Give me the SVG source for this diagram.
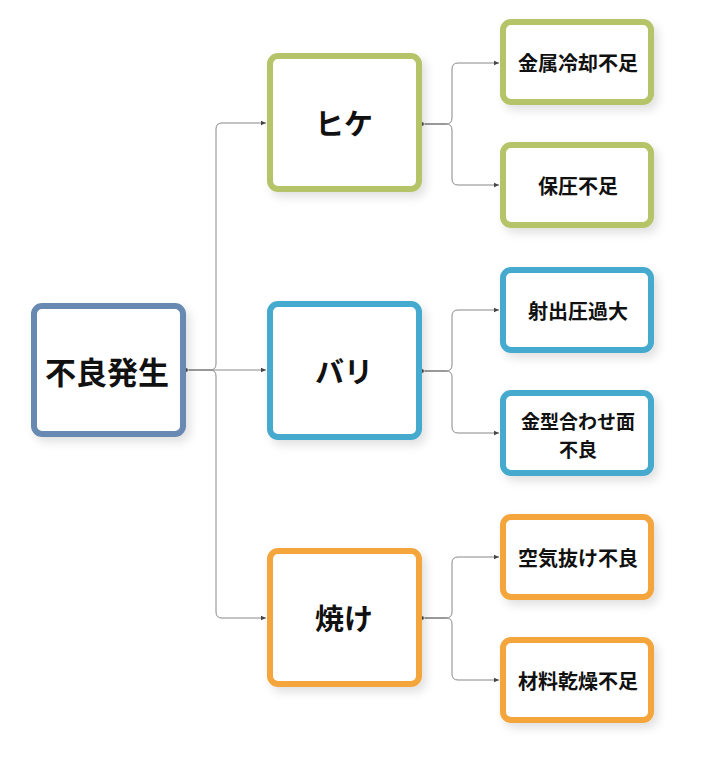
<svg xmlns="http://www.w3.org/2000/svg" width="704" height="763" viewBox="0 0 704 763">
<defs>
<filter id="sh" x="-20%" y="-20%" width="150%" height="150%">
<feDropShadow dx="4" dy="5" stdDeviation="5" flood-color="#000" flood-opacity="0.12"/>
</filter>
<marker id="ar" markerWidth="6" markerHeight="6" refX="5" refY="3" orient="auto" markerUnits="userSpaceOnUse">
<path d="M0,0.8 L5,3 L0,5.2 Z" fill="#444"/>
</marker>
<marker id="dot" markerWidth="6" markerHeight="6" refX="3" refY="3" markerUnits="userSpaceOnUse">
<circle cx="3" cy="3" r="2.3" fill="#444" stroke="#fff" stroke-width="0.8"/>
</marker>
</defs>
<style>
.box{fill:#fff;stroke-width:6;filter:url(#sh)}
.root{stroke:#6889b1}
.g{stroke:#b5c468}
.b{stroke:#44aacd}
.o{stroke:#f4a63d}
text{font-family:"Noto Sans CJK JP","Noto Sans",sans-serif;font-weight:bold;fill:#111;text-anchor:middle;dominant-baseline:central}
.t1{font-size:31px}
.t2{font-size:29px}
.t3{font-size:20px}
.t4{font-size:19px}
.c{fill:none;stroke:#888;stroke-width:1}
.c0{fill:none;stroke:#555;stroke-width:1.2}
</style>
<rect width="704" height="763" fill="#fff"/>
<g id="connectors">
<path class="c" d="M210,370 Q216,370 216,364 V129 Q216,123 222,123 H266" marker-end="url(#ar)"/>
<path class="c" d="M210,370 H266" marker-end="url(#ar)"/>
<path class="c" d="M210,370 Q216,370 216,376 V612 Q216,618 222,618 H266" marker-end="url(#ar)"/>
<path class="c0" d="M186,370 H210" marker-start="url(#dot)"/>
<path class="c" d="M446,124 Q452,124 452,118 V69 Q452,63 458,63 H499" marker-end="url(#ar)"/>
<path class="c" d="M446,124 Q452,124 452,130 V179 Q452,185 458,185 H499" marker-end="url(#ar)"/>
<path class="c0" d="M422,124 H446" marker-start="url(#dot)"/>
<path class="c" d="M446,371 Q452,371 452,365 V316 Q452,310 458,310 H499" marker-end="url(#ar)"/>
<path class="c" d="M446,371 Q452,371 452,377 V427 Q452,433 458,433 H499" marker-end="url(#ar)"/>
<path class="c0" d="M422,371 H446" marker-start="url(#dot)"/>
<path class="c" d="M446,618 Q452,618 452,612 V563 Q452,557 458,557 H499" marker-end="url(#ar)"/>
<path class="c" d="M446,618 Q452,618 452,624 V674 Q452,680 458,680 H499" marker-end="url(#ar)"/>
<path class="c0" d="M422,618 H446" marker-start="url(#dot)"/>
</g>
<g id="root">
<rect class="box root" x="34" y="306" width="149" height="128" rx="8"/>
<text class="t1" x="107" y="370">不良発生</text>
</g>
<g id="hike">
<rect class="box g" x="270" y="56" width="149" height="133" rx="8"/>
<text class="t2" x="344" y="122">ヒケ</text>
</g>
<g id="bari">
<rect class="box b" x="270" y="304" width="149" height="133" rx="8"/>
<text class="t2" x="344" y="370">バリ</text>
</g>
<g id="yake">
<rect class="box o" x="270" y="551" width="149" height="133" rx="8"/>
<text class="t2" x="344" y="617">焼け</text>
</g>
<g id="leaf1">
<rect class="box g" x="503" y="22" width="148" height="80" rx="8"/>
<text class="t3" x="578" y="62">金属冷却不足</text>
</g>
<g id="leaf2">
<rect class="box g" x="503" y="145" width="148" height="80" rx="8"/>
<text class="t3" x="578" y="185">保圧不足</text>
</g>
<g id="leaf3">
<rect class="box b" x="503" y="270" width="148" height="80" rx="8"/>
<text class="t3" x="578" y="310">射出圧過大</text>
</g>
<g id="leaf4">
<rect class="box b" x="503" y="393" width="148" height="80" rx="8"/>
<text class="t4" x="578" y="420">金型合わせ面</text>
<text class="t4" x="578" y="448">不良</text>
</g>
<g id="leaf5">
<rect class="box o" x="503" y="517" width="148" height="80" rx="8"/>
<text class="t3" x="578" y="557">空気抜け不良</text>
</g>
<g id="leaf6">
<rect class="box o" x="503" y="640" width="148" height="80" rx="8"/>
<text class="t3" x="578" y="680">材料乾燥不足</text>
</g>
</svg>
